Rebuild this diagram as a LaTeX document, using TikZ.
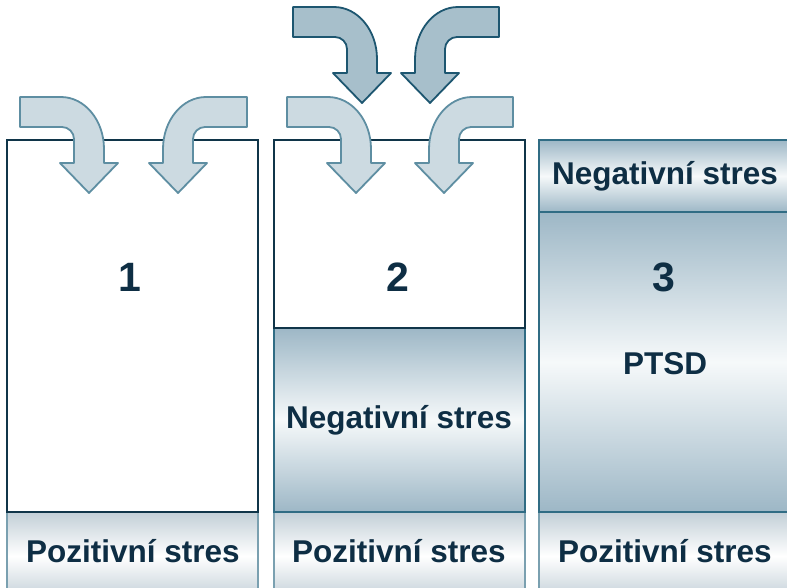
\documentclass[tikz,border=0pt]{standalone}
\usepackage{fontspec}
\setmainfont{Liberation Sans}
\definecolor{txt}{HTML}{0E2E44}
\definecolor{darkedge}{HTML}{103549}
\definecolor{tealedge}{HTML}{306C84}
\definecolor{lightedge}{HTML}{7AA0B0}
\definecolor{gradblue}{HTML}{9DB7C6}
\definecolor{gradgray}{HTML}{C2CFD7}
\definecolor{gradwhite}{HTML}{F6F9FA}
\definecolor{arlfill}{HTML}{CCDAE1}
\definecolor{arledge}{HTML}{5E8EA2}
\definecolor{ardfill}{HTML}{A7BFCB}
\definecolor{ardedge}{HTML}{1D5670}
\tikzset{
  whitebox/.style={draw=darkedge, line width=2.4pt, fill=white},
  negbox/.style={draw=tealedge, line width=2.2pt, top color=gradblue, bottom color=gradblue, middle color=gradwhite},
  posbox/.style={draw=lightedge, line width=2pt, top color=gradgray, bottom color=gradgray, middle color=white},
  lbl/.style={text=txt, font=\fontsize{31.5}{36}\selectfont\bfseries, inner sep=0pt},
  num/.style={text=txt, font=\fontsize{41}{46}\selectfont\bfseries, inner sep=0pt},
  lightarrow/.style={fill=arlfill, draw=arledge, line width=1.8pt, line join=round},
  darkarrow/.style={fill=ardfill, draw=ardedge, line width=1.8pt, line join=round}
}
\newcommand{\bentarrow}[4]{%
  \begin{scope}[shift={(#1,#2)}, xscale=#3]
    \path[#4] (0,0) -- (41,0) arc[start angle=-90, end angle=0, x radius=43, y radius=52]
      -- (84,66) -- (98,66) -- (69,96) -- (40,66) -- (54,66) -- (54,42)
      arc[start angle=0, end angle=-90, radius=12] -- (0,30) -- cycle;
  \end{scope}}
\begin{document}
\begin{tikzpicture}[x=1pt, y=-1pt]
  \useasboundingbox (0,0) rectangle (787,587);
  % bottom boxes
  \draw[posbox] (7,512) rectangle (258,600);
  \draw[posbox] (274,512) rectangle (525,600);
  \draw[posbox] (539,512) rectangle (800,600);
  % gradient boxes
  \draw[negbox] (274,328) rectangle (525,512);
  \draw[negbox] (539,212) rectangle (800,512);
  \draw[negbox] (539,140) rectangle (800,212);
  % white boxes
  \draw[whitebox] (7,140) rectangle (258,512);
  \draw[whitebox] (274,140) rectangle (525,328);
  % arrows
  \bentarrow{20}{97}{1}{lightarrow}
  \bentarrow{247}{97}{-1}{lightarrow}
  \bentarrow{287}{97}{1}{lightarrow}
  \bentarrow{513}{97}{-1}{lightarrow}
  \bentarrow{293}{7}{1}{darkarrow}
  \bentarrow{499}{7}{-1}{darkarrow}
  % texts
  \node[num] (n1) at (130,277) {1};
  \node[num] (n2) at (398,277) {2};
  \node[num] (n3) at (664,277) {3};
  \node[lbl] (ptsd) at (665,364) {PTSD};
  \node[lbl] (neg2) at (399,420) {Negativní stres};
  \node[lbl] (neg3) at (665,176) {Negativní stres};
  \node[lbl] (pos1) at (133,551) {Pozitivní stres};
  \node[lbl] (pos2) at (399,551) {Pozitivní stres};
  \node[lbl] (pos3) at (665,551) {Pozitivní stres};
\end{tikzpicture}
\end{document}
